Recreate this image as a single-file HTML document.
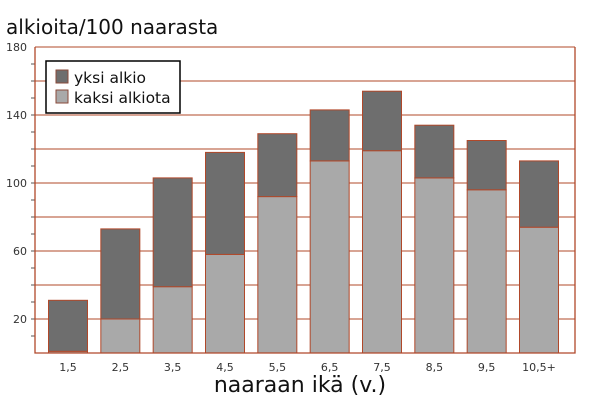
<!DOCTYPE html>
<html><head><meta charset="utf-8"><style>
body{margin:0;background:#fff;width:602px;height:410px;overflow:hidden;font-family:"DejaVu Sans","Liberation Sans",sans-serif}
</style></head><body>
<svg id="chart" width="602" height="410" xmlns="http://www.w3.org/2000/svg">
<text x="6" y="34" font-size="20" fill="#111">alkioita/100 naarasta</text>
<g id="grid"></g><g id="bars"></g><g id="axes"></g>
<text x="300" y="392" font-size="22" fill="#111" text-anchor="middle">naaraan ikä (v.)</text>
<g>
<rect x="46" y="61" width="134" height="52" fill="#fff" stroke="#000" stroke-width="1.5"/>
<rect x="56" y="70" width="12" height="13" fill="#6e6e6e" stroke="#8a4a3a"/>
<text x="74" y="83" font-size="15.5" fill="#111">yksi alkio</text>
<rect x="56" y="90" width="12" height="13" fill="#a9a9a9" stroke="#8a4a3a"/>
<text x="74" y="103" font-size="15.5" fill="#111">kaksi alkiota</text>
</g>
</svg>
<script>
const categories=["1,5","2,5","3,5","4,5","5,5","6,5","7,5","8,5","9,5","10,5+"];
const kaksi=[1,20,39,58,92,113,119,103,96,74];
const yksi=[30,53,64,60,37,30,35,31,29,39];
const yTicks=[20,60,100,140,180];
const NS="http://www.w3.org/2000/svg";
const pLeft=35,pRight=575,pTop=47,pBottom=353,ymax=180;
const y=v=>pBottom-(v/ymax)*(pBottom-pTop);
const xc=i=>68+i*((539-68)/(categories.length-1));
const bw=39;
function mk(tag,attrs,parent){const e=document.createElementNS(NS,tag);for(const k in attrs)e.setAttribute(k,attrs[k]);document.getElementById(parent).appendChild(e);return e;}
const col="#b0482a";
for(let v=20;v<=ymax;v+=20){const l=mk("line",{x1:pLeft,x2:pRight,y1:y(v),y2:y(v),stroke:col,"stroke-width":1},"grid");

}
for(let v=10;v<ymax;v+=10){const t=mk("line",{x1:pLeft-4,x2:pLeft,y1:y(v),y2:y(v),stroke:"#555","stroke-width":1},"axes");

}
yTicks.forEach(v=>{const t=mk("text",{x:pLeft-8,y:y(v)+4,"font-size":11,fill:"#333","text-anchor":"end"},"axes");t.textContent=v;

});
const ax=mk("path",{d:`M${pLeft} ${pTop}V${pBottom}H${pRight}V${pTop}`,fill:"none",stroke:col,"stroke-width":1.3},"axes");


categories.forEach((c,i)=>{
const x=xc(i)-bw/2;
const b1=mk("rect",{x:x,y:y(kaksi[i]),width:bw,height:pBottom-y(kaksi[i]),fill:"#a9a9a9",stroke:col,"stroke-width":1},"bars");


const tot=kaksi[i]+yksi[i];
const b2=mk("rect",{x:x,y:y(tot),width:bw,height:y(kaksi[i])-y(tot),fill:"#6e6e6e",stroke:col,"stroke-width":1},"bars");


const t=mk("text",{x:xc(i),y:371,"font-size":11,fill:"#333","text-anchor":"middle"},"axes");t.textContent=c;


});
</script>
</body></html>
